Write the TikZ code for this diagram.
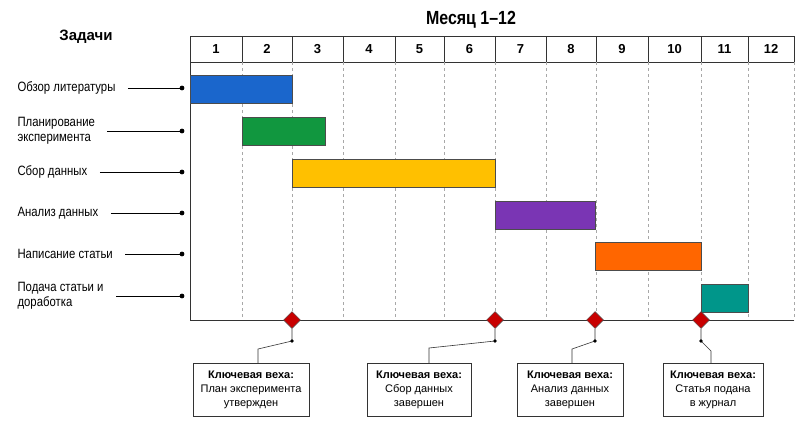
\documentclass[tikz,border=0pt]{standalone}
\usepackage{fontspec}
\setmainfont{Liberation Sans}
\newfontfamily\narrowsans[FakeStretch=0.84]{Liberation Sans}
\usepackage{xcolor}
\usepackage{tikz}
\usetikzlibrary{positioning, arrows.meta, shapes.geometric}
\definecolor{barblue}{HTML}{1A66CC}
\definecolor{bargreen}{HTML}{11973F}
\definecolor{baryellow}{HTML}{FFC000}
\definecolor{barpurple}{HTML}{7A35B4}
\definecolor{barorange}{HTML}{FF6600}
\definecolor{barteal}{HTML}{00968A}
\definecolor{msred}{HTML}{C80000}
\definecolor{gridgray}{HTML}{A8A8A8}

\begin{document}
\begin{tikzpicture}[x=1pt, y=-1pt,
    task/.style={anchor=west, align=left, font=\narrowsans\fontsize{13.5}{14.5}\selectfont},
    bar/.style={draw=black!70, line width=0.6pt, anchor=north west, minimum height=28, inner sep=0},
    milestone/.style={diamond, draw=black!70, fill=msred, line width=0.5pt, minimum width=17, minimum height=17, inner sep=0},
    msbox/.style={draw=black!80, line width=0.6pt, anchor=north, minimum height=53, align=center, inner sep=2pt,
      font=\fontsize{11}{14}\selectfont}]
  \useasboundingbox (0,0) rectangle (800,439);

  % titles
  \node[font=\bfseries\fontsize{15}{17}\selectfont] (ttasks) at (86,37) {Задачи};
  \node[font=\bfseries\narrowsans\fontsize{19}{21}\selectfont] (tmonth) at (471,20) {Месяц 1–12};

  % month header
  \draw[line width=0.8pt, black!80] (190,36) rectangle (794,62);
  \foreach \a/\b [count=\i] in {190/242, 242/292, 292/343, 343/395, 395/444, 444/495,
                                495/546, 546/596, 596/648, 648/701, 701/748, 748/794} {
    \node[font=\bfseries\fontsize{13}{15}\selectfont] (m\i) at ({(\a+\b)/2},49) {\i};
    \draw[line width=0.6pt, black!80] (\b,36) -- (\b,62);
  }
  \foreach \x in {242,292,343,395,444,495,546,596,648,701,748,794}
    \draw[dashed, gridgray, line width=0.5pt] (\x,62) -- (\x,320);
  \draw[line width=0.8pt, black!80] (190,62) -- (190,320) -- (794,320);

  % bars
  \node[bar, fill=barblue,   minimum width=102] (b1) at (190,75)  {};
  \node[bar, fill=bargreen,  minimum width=83]  (b2) at (242,117) {};
  \node[bar, fill=baryellow, minimum width=203] (b3) at (292,159) {};
  \node[bar, fill=barpurple, minimum width=100] (b4) at (495,201) {};
  \node[bar, fill=barorange, minimum width=106] (b5) at (595,242) {};
  \node[bar, fill=barteal,   minimum width=47]  (b6) at (701,284) {};

  % tasks
  \node[task] (t1) at (14,88)  {Обзор литературы};
  \node[task] (t2) at (14,131) {Планирование\\эксперимента};
  \node[task] (t3) at (14,172) {Сбор данных};
  \node[task] (t4) at (14,213) {Анализ данных};
  \node[task] (t5) at (14,254) {Написание статьи};
  \node[task] (t6) at (14,296) {Подача статьи и\\доработка};
  \foreach \i/\y in {1/88, 2/131, 3/172, 4/213, 5/254, 6/296} {
    \coordinate (d\i) at (182,\y);
    \draw[line width=0.8pt] ([xshift=9pt]t\i.east) -- (d\i);
    \fill (d\i) circle (2.4);
  }

  % milestones
  \node[milestone] (ms1) at (292,320) {};
  \node[milestone] (ms2) at (495,320) {};
  \node[milestone] (ms3) at (595,320) {};
  \node[milestone] (ms4) at (701,320) {};

  \node[msbox, minimum width=116] (box1) at (251,363) {\textbf{Ключевая веха:}\\План эксперимента\\утвержден};
  \node[msbox, minimum width=104] (box2) at (419,363) {\textbf{Ключевая веха:}\\Сбор данных\\завершен};
  \node[msbox, minimum width=106] (box3) at (570,363) {\textbf{Ключевая веха:}\\Анализ данных\\завершен};
  \node[msbox, minimum width=100] (box4) at (713,363) {\textbf{Ключевая веха:}\\Статья подана\\в журнал};

  \foreach \i/\x/\jx/\jy in {1/292/258/349, 2/495/429/348, 3/595/572/349, 4/701/711/351} {
    \coordinate (k\i) at (\x,341);
    \coordinate (j\i) at (\jx,\jy);
    \draw[line width=0.6pt, black!80] (ms\i.south) -- (k\i) -- (j\i) -- (j\i |- box\i.north);
    \fill (k\i) circle (1.8);
  }
\end{tikzpicture}
\end{document}
